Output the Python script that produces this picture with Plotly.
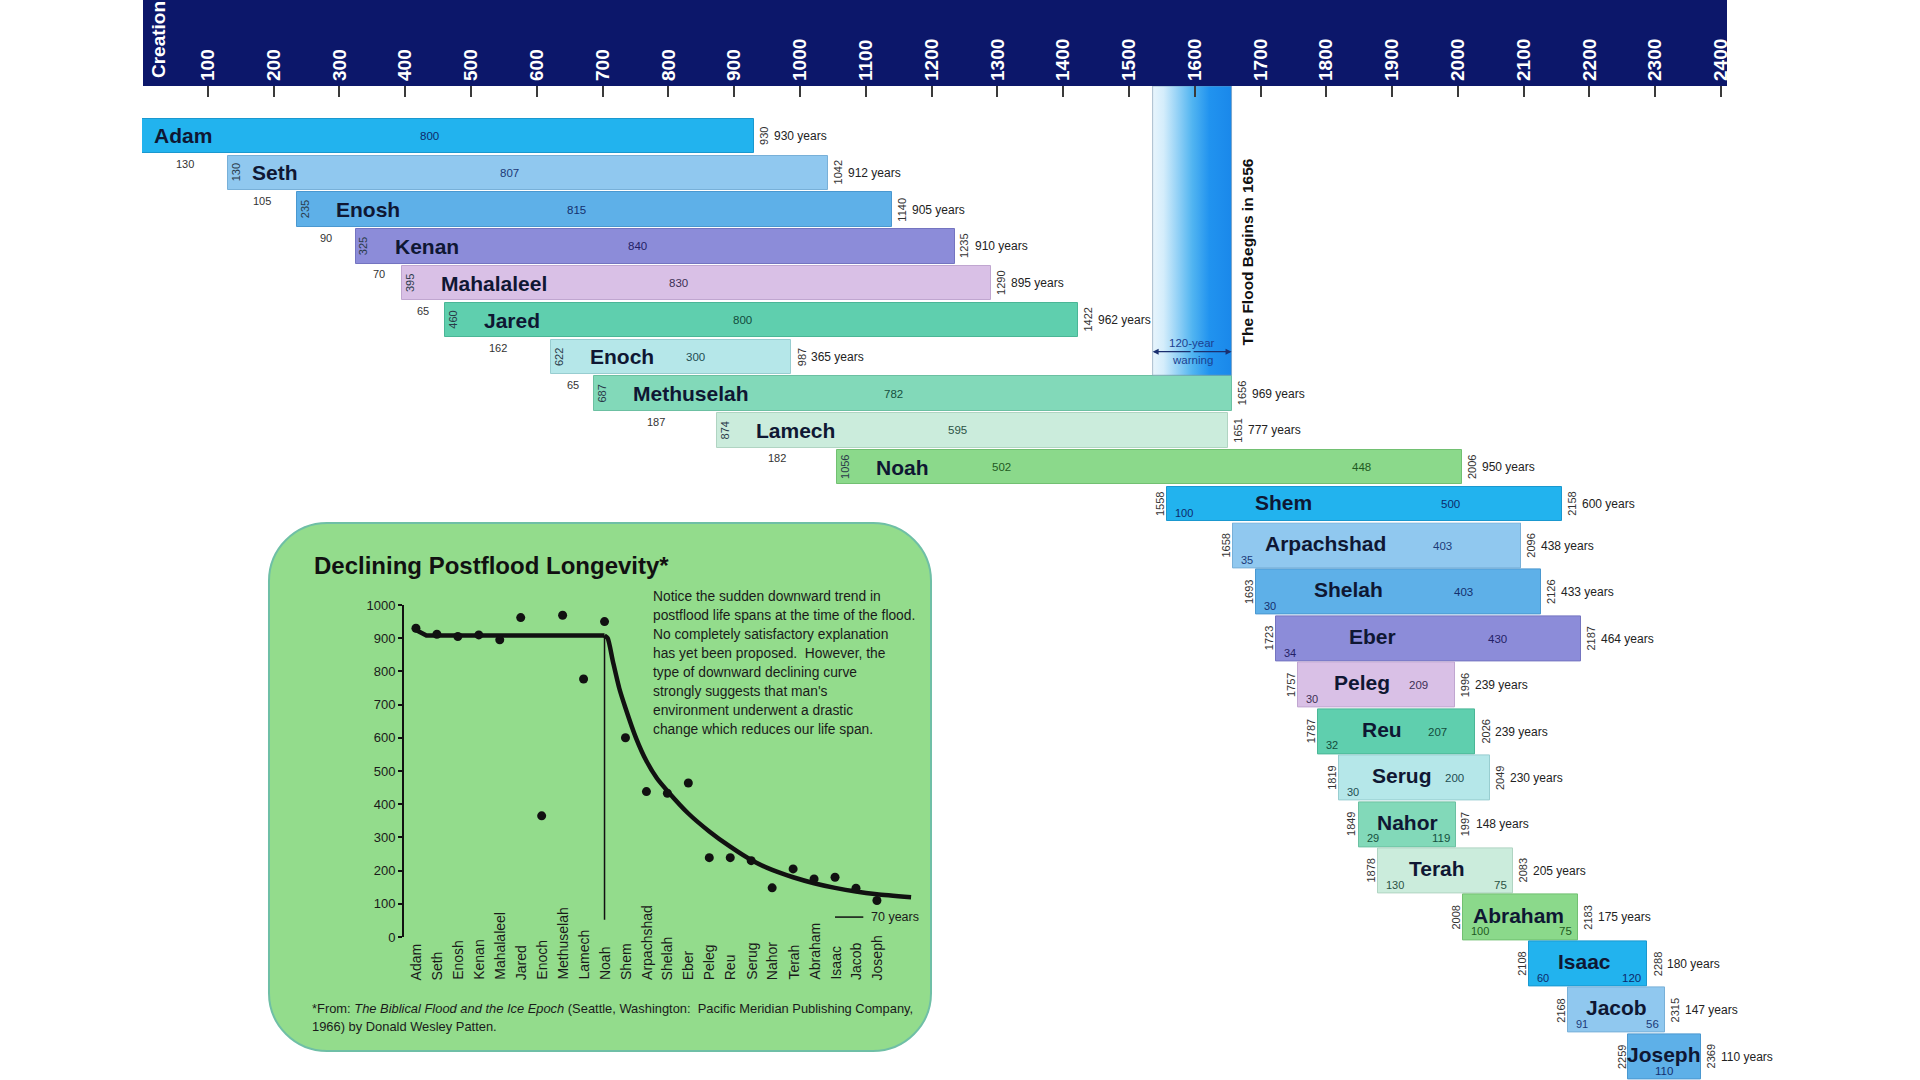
import plotly.graph_objects as go

W, H = 1920, 1080
FONT = "Liberation Sans, Arial, sans-serif"

# ---------------- data ----------------
names = ["Adam", "Seth", "Enosh", "Kenan", "Mahalaleel", "Jared", "Enoch", "Methuselah", "Lamech", "Noah",
         "Shem", "Arpachshad", "Shelah", "Eber", "Peleg", "Reu", "Serug", "Nahor", "Terah", "Abraham",
         "Isaac", "Jacob", "Joseph"]
born = [0, 130, 235, 325, 395, 460, 622, 687, 874, 1056,
        1558, 1658, 1693, 1723, 1757, 1787, 1819, 1849, 1878, 2008, 2108, 2168, 2259]
died = [930, 1042, 1140, 1235, 1290, 1422, 987, 1656, 1651, 2006,
        2158, 2096, 2126, 2187, 1996, 2026, 2049, 1997, 2083, 2183, 2288, 2315, 2369]
lifespan = [930, 912, 905, 910, 895, 962, 365, 969, 777, 950,
            600, 438, 433, 464, 239, 239, 230, 148, 205, 175, 180, 147, 110]
age_at_son = [130, 105, 90, 70, 65, 162, 65, 187, 182, 502,
              100, 35, 30, 34, 30, 32, 30, 29, 130, 100, 60, 91, None]
years_after = [800, 807, 815, 840, 830, 800, 300, 782, 595, 448,
               500, 403, 403, 430, 209, 207, 200, 119, 75, 75, 120, 56, 110]

axis_years = list(range(100, 2401, 100))
flood_year = 1656
warning_years = 120

# inset: trend line (position = patriarch index)
flat_pos = [0, 0.5, 9.0]
flat_val = [925, 908, 908]
curve_pos = [9.0, 9.15, 9.4, 9.7, 10.0, 10.5, 11.0, 11.5, 12.0, 13.0, 14.0, 15.0,
             16.0, 17.0, 18.0, 19.0, 20.0, 21.0, 22.0, 23.63]
curve_val = [908, 900, 830, 750, 690, 600, 530, 478, 440, 372, 318, 272,
             232, 202, 180, 162, 148, 137, 129, 120]
flood_line_val = [52, 908]
modern_pos = [20.0, 21.35]
modern_val = 60
inset_ticks = list(range(0, 1001, 100))

paragraph = ["Notice the sudden downward trend in",
             "postflood life spans at the time of the flood.",
             "No completely satisfactory explanation",
             "has yet been proposed.  However, the",
             "type of downward declining curve",
             "strongly suggests that man's",
             "environment underwent a drastic",
             "change which reduces our life span."]
footnote = ["*From: <i>The Biblical Flood and the Ice Epoch</i> (Seattle, Washington:  Pacific Meridian Publishing Company,",
            "1966) by Donald Wesley Patten."]

# ---------------- styles ----------------
palette = ["#22b3ee", "#90c8ef", "#5eb0e8", "#8c8cd9", "#d9c0e6",
           "#5fcfae", "#b5e7e9", "#82d9b9", "#cbecdc", "#8bd98b"]
edge = ["#1a98cf", "#78b0d8", "#4a98d0", "#7474c0", "#c0a6d0",
        "#4ab696", "#98cdd0", "#6cc0a2", "#b0d4c2", "#72c072"]
numcol = ["#0d2a6b", "#1c3a78", "#142f6e", "#241f66", "#3c2f55",
          "#124c3c", "#1e4e52", "#15503e", "#2c5244", "#1f5a22"]
NAVY = "#0c176a"

N_TOP = 11  # Adam .. Shem on upper row axis
px = lambda v: v / W
py = lambda v: 1 - v / H

fig = go.Figure()

# flood warning band (gradient)
y_top = -0.5 - (117.6 - 86) / 36.8
band_bottom = names.index("Methuselah") - 0.5
fig.add_trace(go.Scatter(
    x=[flood_year - warning_years, flood_year, flood_year, flood_year - warning_years, flood_year - warning_years],
    y=[y_top, y_top, band_bottom, band_bottom, y_top],
    fill="toself", mode="lines",
    line=dict(width=1, color="rgba(120,150,175,0.6)"),
    fillgradient=dict(type="horizontal",
                      colorscale=[[0, "#e8f5fd"], [0.14, "#d4edfb"], [0.5, "#52b5f1"],
                                  [0.72, "#2193ef"], [1, "#1a88ea"]]),
    hoverinfo="skip", showlegend=False, xaxis="x", yaxis="y"))

# bars
cols = [palette[i % 10] for i in range(len(names))]
edges = [edge[i % 10] for i in range(len(names))]
fig.add_trace(go.Bar(
    y=list(range(N_TOP)), x=lifespan[:N_TOP], base=born[:N_TOP], orientation="h",
    width=0.93, marker=dict(color=cols[:N_TOP], line=dict(color=edges[:N_TOP], width=1)),
    hoverinfo="skip", showlegend=False, xaxis="x", yaxis="y"))
fig.add_trace(go.Bar(
    y=list(range(len(names) - N_TOP)), x=lifespan[N_TOP:], base=born[N_TOP:], orientation="h",
    width=0.97, marker=dict(color=cols[N_TOP:], line=dict(color=edges[N_TOP:], width=1)),
    hoverinfo="skip", showlegend=False, xaxis="x", yaxis="y2"))

anns = []


def ann(x, y, text, xref="x", yref="y", size=11, color="#222", xanchor="center",
        yanchor="middle", angle=0, xshift=0, yshift=0):
    anns.append(dict(x=x, y=y, xref=xref, yref=yref, text=text, showarrow=False,
                     font=dict(size=size, color=color, family=FONT),
                     xanchor=xanchor, yanchor=yanchor, textangle=angle,
                     xshift=xshift, yshift=yshift))


for i, n in enumerate(names):
    b, d, L = born[i], died[i], lifespan[i]
    a, after = age_at_son[i], years_after[i]
    tc = numcol[i % 10]
    if i < N_TOP:
        yref, yi, frac = "y", i, 0.25
    else:
        yref, yi, frac = "y2", i - N_TOP, 0.3
    # end year + lifespan
    ann(d, yi, str(d), yref=yref, size=11, color="#333", angle=-90, xshift=10)
    ann(d, yi, f"{L} years", yref=yref, size=12, color="#222", xanchor="left", xshift=18)
    if i < 10:  # antediluvian style
        if i > 0:
            ann(b, yi, str(b), yref=yref, size=11, color="#2a3a4a", angle=-90, xshift=8)
        ann(b, yi, f"<b>{n}</b>", yref=yref, size=21, color="#0f1733", xanchor="left",
            xshift=10 if i == 0 else (22 if i == 1 else 37))
        if i < 9:
            ann(b + (0.47 if L > 500 else 0.6) * L, yi, str(after), yref=yref, size=11.5, color=tc)
            ann(b + a / 2, yi + 0.76, str(a), yref=yref, size=11, color="#333")
        else:
            ann(b + a / 2, yi, str(a), yref=yref, size=11.5, color=tc)
            ann(b + a + 0.66 * after, yi, str(after), yref=yref, size=11.5, color=tc)
    else:  # postflood style
        ann(b, yi, str(b), yref=yref, size=11, color="#333", angle=-90, xshift=-7)
        c = b + min(L / 2, 0.22 * L + 45)
        ann(c, yi - 0.05, f"<b>{n}</b>", yref=yref, size=21, color="#0f1733")
        if a is None:
            ann(c, yi + frac, str(after), yref=yref, size=11.5, color=tc)
        else:
            ann(b, yi + frac, str(a), yref=yref, size=11, color=tc, xanchor="left", xshift=6)
            if L >= 220:
                ann(c + 0.6 * (d - c), yi, str(after), yref=yref, size=11.5, color=tc)
            else:
                ann(d, yi + frac, str(after), yref=yref, size=11.5, color=tc,
                    xanchor="right", xshift=-4)

# Creation label in the navy band
ann(0, py(80), "<b>Creation</b>", yref="paper", size=19, color="white", xanchor="left",
    yanchor="bottom", angle=-90, xshift=4)

# flood annotations
ann(flood_year, 3.15, "<b>The Flood Begins in 1656</b>", size=15.5, color="#111",
    angle=-90, xshift=16)
mid_band = flood_year - warning_years / 2
ann(mid_band, 5.62, "120-year", size=11.5, color="#1b3f8f")
ann(mid_band, 6.09, "warning", size=11.5, color="#1b3f8f")
for tip in (flood_year - warning_years, flood_year):
    anns.append(dict(x=tip, y=5.86, ax=mid_band, ay=5.86, xref="x", yref="y", axref="x", ayref="y",
                     text="", showarrow=True, arrowhead=2, arrowsize=1, arrowwidth=1.2,
                     arrowcolor="#1b2f6f", standoff=0, startstandoff=0))

# ---------------- inset ----------------
fig.add_trace(go.Scatter(x=flat_pos, y=flat_val, mode="lines", line=dict(color="#111", width=4.5),
                         hoverinfo="skip", showlegend=False, xaxis="x3", yaxis="y3"))
fig.add_trace(go.Scatter(x=curve_pos, y=curve_val, mode="lines",
                         line=dict(color="#111", width=4.5, shape="spline", smoothing=0.6),
                         hoverinfo="skip", showlegend=False, xaxis="x3", yaxis="y3"))
noah_i = names.index("Noah")
fig.add_trace(go.Scatter(x=[noah_i, noah_i], y=flood_line_val, mode="lines",
                         line=dict(color="#111", width=1.5),
                         hoverinfo="skip", showlegend=False, xaxis="x3", yaxis="y3"))
fig.add_trace(go.Scatter(x=list(range(len(names))), y=lifespan, mode="markers",
                         marker=dict(color="#111", size=9),
                         hoverinfo="skip", showlegend=False, xaxis="x3", yaxis="y3"))
fig.add_trace(go.Scatter(x=modern_pos, y=[modern_val, modern_val], mode="lines",
                         line=dict(color="#111", width=1.5),
                         hoverinfo="skip", showlegend=False, xaxis="x3", yaxis="y3"))
ann(modern_pos[1] + 0.25, modern_val, "70 years", xref="x3", yref="y3", size=12.5,
    color="#1a1a1a", xanchor="left")

for i, n in enumerate(names):
    ann(i, py(982), n, xref="x3", yref="paper", size=14, color="#1a1a1a",
        yanchor="bottom", angle=-90)

ann(px(312), py(565), "<b>Declining Postflood Longevity*</b>", xref="paper", yref="paper",
    size=24, color="#111", xanchor="left")
for k, line in enumerate(paragraph):
    ann(px(651), py(596 + 19 * k), line, xref="paper", yref="paper", size=13.8,
        color="#1a1a1a", xanchor="left")
for k, line in enumerate(footnote):
    ann(px(310), py(1008 + 18 * k), line, xref="paper", yref="paper", size=12.9,
        color="#1a1a1a", xanchor="left")

# ---------------- shapes ----------------
x0, x1, y0, y1, r = 269, 931, 523, 1051, 58
k = 0.5523 * r


def P(x, y):
    return f"{px(x):.5f},{py(y):.5f}"


box = (f"M {P(x0 + r, y0)} L {P(x1 - r, y0)} C {P(x1 - r + k, y0)} {P(x1, y0 + r - k)} {P(x1, y0 + r)} "
       f"L {P(x1, y1 - r)} C {P(x1, y1 - r + k)} {P(x1 - r + k, y1)} {P(x1 - r, y1)} "
       f"L {P(x0 + r, y1)} C {P(x0 + r - k, y1)} {P(x0, y1 - r + k)} {P(x0, y1 - r)} "
       f"L {P(x0, y0 + r)} C {P(x0, y0 + r - k)} {P(x0 + r - k, y0)} {P(x0 + r, y0)} Z")

shapes = [
    dict(type="rect", xref="paper", yref="paper", x0=px(143), x1=px(1727), y0=py(86), y1=1.01,
         fillcolor=NAVY, line=dict(width=0), layer="below"),
    dict(type="path", xref="paper", yref="paper", path=box, fillcolor="#93dc8c",
         line=dict(color="#6fbfa6", width=2), layer="below"),
]

fig.update_layout(
    width=W, height=H, margin=dict(l=0, r=0, t=0, b=0, pad=0, autoexpand=False),
    paper_bgcolor="white", plot_bgcolor="rgba(0,0,0,0)",
    font=dict(family=FONT), showlegend=False, bargap=0,
    xaxis=dict(domain=[px(142), px(1727)], range=[0, 2409], side="top", anchor="y",
               tickmode="array", tickvals=axis_years, ticktext=[f"<b>{v}</b>" for v in axis_years],
               tickangle=-90, tickfont=dict(size=19, color="white", family=FONT),
               ticks="inside", ticklen=11, tickwidth=2, tickcolor="#3a3a3a",
               ticklabelstandoff=4, automargin=False,
               showgrid=False, zeroline=False, showline=False, fixedrange=True),
    yaxis=dict(domain=[py(522.4), py(86)], range=[10.5, y_top], visible=False, anchor="x"),
    yaxis2=dict(domain=[0, py(522.4)], range=[len(names) - N_TOP - 0.5, -0.5], visible=False, anchor="x"),
    xaxis3=dict(domain=[px(404), px(918)], range=[-0.57, 23.96], anchor="y3", visible=False),
    yaxis3=dict(domain=[py(937), py(605)], range=[0, 1000], anchor="x3",
                tickmode="array", tickvals=inset_ticks, tickfont=dict(size=13, color="#1a1a1a"),
                ticks="outside", ticklen=4, tickwidth=1.5, tickcolor="#111",
                showline=True, linecolor="#111", linewidth=2, automargin=False,
                showgrid=False, zeroline=False),
    annotations=anns, shapes=shapes,
)

post = ("document.body.style.margin='0';document.body.style.overflow='hidden';"
        "var gd=document.getElementById('{plot_id}');gd.style.position='fixed';"
        "gd.style.top='0px';gd.style.left='0px';")
fig.write_html("out.html", include_plotlyjs=True, config={"displayModeBar": False},
               post_script=post)
